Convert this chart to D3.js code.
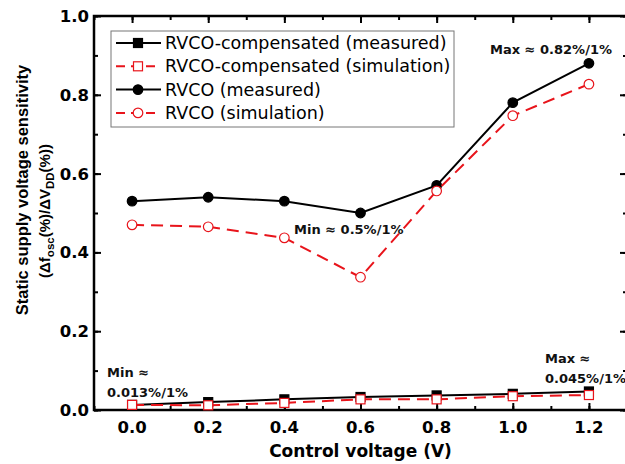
<!DOCTYPE html>
<html>
<head>
<meta charset="utf-8">
<script src="https://cdn.jsdelivr.net/npm/d3@7"></script>
<style>
  body { margin: 0; background: #fff; }
  svg { font-family: "DejaVu Sans", Verdana, sans-serif; }
</style>
</head>
<body>
<div id="chart"></div>
<script>
const FRAME_WIDTH = 625;
const FRAME_HEIGHT = 464;
const MARGINS = { left: 94, right: -2, top: 16, bottom: 54 };
const VIS_WIDTH = FRAME_WIDTH - MARGINS.left - MARGINS.right;
const VIS_HEIGHT = FRAME_HEIGHT - MARGINS.top - MARGINS.bottom;

// data
const VOLTAGES = [0.0, 0.2, 0.4, 0.6, 0.8, 1.0, 1.2];
const COMP_MEASURED = [0.013, 0.02, 0.027, 0.033, 0.037, 0.041, 0.047];
const COMP_SIM = [0.013, 0.012, 0.018, 0.027, 0.027, 0.035, 0.038];
const RVCO_MEASURED = [0.53, 0.54, 0.53, 0.50, 0.57, 0.78, 0.88];
const RVCO_SIM = [0.47, 0.465, 0.437, 0.337, 0.556, 0.747, 0.827];
const X_TICKS = [0.0, 0.2, 0.4, 0.6, 0.8, 1.0, 1.2];
const Y_TICKS = [0.0, 0.2, 0.4, 0.6, 0.8, 1.0];

const SERIES = [
  { name: "RVCO-compensated (measured)", values: COMP_MEASURED, color: "black", dash: null, marker: "square", filled: true },
  { name: "RVCO-compensated (simulation)", values: COMP_SIM, color: "#e8141b", dash: "12,7", marker: "square", filled: false },
  { name: "RVCO (measured)", values: RVCO_MEASURED, color: "black", dash: null, marker: "circle", filled: true },
  { name: "RVCO (simulation)", values: RVCO_SIM, color: "#e8141b", dash: "12,7", marker: "circle", filled: false },
];

const svg = d3.select("#chart").append("svg")
  .attr("width", FRAME_WIDTH)
  .attr("height", FRAME_HEIGHT);

const X_SCALE = d3.scaleLinear().domain([-0.1, 1.3]).range([0, VIS_WIDTH]);
const Y_SCALE = d3.scaleLinear().domain([0, 1.0]).range([VIS_HEIGHT, 0]);

const g = svg.append("g").attr("transform", `translate(${MARGINS.left},${MARGINS.top})`);

// minor + major ticks, pointing inward on all four sides
const xMinor = d3.range(-0.1, 1.31, 0.1).map((d) => +d.toFixed(1));
const yMinor = d3.range(0, 1.01, 0.1).map((d) => +d.toFixed(1));

[[xMinor, 4], [X_TICKS, 7]].forEach(([vals, size]) => {
  g.append("g")
    .attr("transform", `translate(0,${VIS_HEIGHT})`)
    .call(d3.axisTop(X_SCALE).tickValues(vals).tickSize(size).tickFormat(""));
  g.append("g")
    .call(d3.axisBottom(X_SCALE).tickValues(vals).tickSize(size).tickFormat(""));
});
[[yMinor, 4], [Y_TICKS, 7]].forEach(([vals, size]) => {
  g.append("g")
    .call(d3.axisRight(Y_SCALE).tickValues(vals).tickSize(size).tickFormat(""));
  g.append("g")
    .attr("transform", `translate(${VIS_WIDTH},0)`)
    .call(d3.axisLeft(Y_SCALE).tickValues(vals).tickSize(size).tickFormat(""));
});

g.selectAll(".domain").remove();
g.selectAll(".tick line").attr("stroke", "black").attr("stroke-width", 2);

// tick labels
g.selectAll(".xlab")
  .data(X_TICKS)
  .enter()
  .append("text")
  .attr("x", (d) => X_SCALE(d))
  .attr("y", VIS_HEIGHT + 23)
  .attr("text-anchor", "middle")
  .attr("font-size", "16.5px")
  .attr("font-weight", "bold")
  .text((d) => d.toFixed(1));

g.selectAll(".ylab")
  .data(Y_TICKS)
  .enter()
  .append("text")
  .attr("x", -5)
  .attr("y", (d) => Y_SCALE(d) + 6)
  .attr("text-anchor", "end")
  .attr("font-size", "16.5px")
  .attr("font-weight", "bold")
  .text((d) => d.toFixed(1));

// frame
g.append("rect")
  .attr("width", VIS_WIDTH)
  .attr("height", VIS_HEIGHT)
  .attr("fill", "none")
  .attr("stroke", "black")
  .attr("stroke-width", 2.5);

// lines and markers
const line = d3.line()
  .x((d, i) => X_SCALE(VOLTAGES[i]))
  .y((d) => Y_SCALE(d));

function drawMarker(sel, s, x, y) {
  if (s.marker === "square") {
    sel.append("rect")
      .attr("x", x - 4.5).attr("y", y - 4.5)
      .attr("width", 9).attr("height", 9)
      .attr("fill", s.filled ? s.color : "white")
      .attr("stroke", s.color)
      .attr("stroke-width", 1.2);
  } else {
    sel.append("circle")
      .attr("cx", x).attr("cy", y).attr("r", 4.8)
      .attr("fill", s.filled ? s.color : "white")
      .attr("stroke", s.color)
      .attr("stroke-width", 1.2);
  }
}

SERIES.forEach((s) => {
  g.append("path")
    .datum(s.values)
    .attr("d", line)
    .attr("fill", "none")
    .attr("stroke", s.color)
    .attr("stroke-width", 2)
    .attr("stroke-dasharray", s.dash);
  const mg = g.append("g");
  s.values.forEach((v, i) => drawMarker(mg, s, X_SCALE(VOLTAGES[i]), Y_SCALE(v)));
});

// legend
const legend = svg.append("g").attr("transform", "translate(111,31)");
legend.append("rect")
  .attr("width", 343)
  .attr("height", 96)
  .attr("fill", "white")
  .attr("stroke", "#777")
  .attr("stroke-width", 1);

SERIES.forEach((s, i) => {
  const y = 12 + i * 23.3;
  legend.append("line")
    .attr("x1", 5).attr("x2", 50)
    .attr("y1", y).attr("y2", y)
    .attr("stroke", s.color)
    .attr("stroke-width", 2)
    .attr("stroke-dasharray", s.dash ? "9,6" : null);
  drawMarker(legend, s, 27, y);
  legend.append("text")
    .attr("x", 54)
    .attr("y", y + 6)
    .attr("font-size", "17.5px")
    .text(s.name);
});

// annotations
const notes = [
  { lines: ["Max ≈ 0.82%/1%"], x: 490, y: 54 },
  { lines: ["Min ≈ 0.5%/1%"], x: 294, y: 234 },
  { lines: ["Min ≈", "0.013%/1%"], x: 107, y: 377 },
  { lines: ["Max ≈", "0.045%/1%"], x: 545, y: 363 },
];
notes.forEach((n) => {
  n.lines.forEach((t, j) => {
    svg.append("text")
      .attr("x", n.x)
      .attr("y", n.y + j * 20)
      .attr("font-size", "13px")
      .attr("font-weight", "bold")
      .attr("fill", "#111")
      .text(t);
  });
});

// axis titles
svg.append("text")
  .attr("x", MARGINS.left + X_SCALE(0.6))
  .attr("y", 457)
  .attr("text-anchor", "middle")
  .attr("font-size", "17px")
  .attr("font-weight", "bold")
  .text("Control voltage (V)");

const yTitle = svg.append("g")
  .attr("transform", "rotate(-90)")
  .attr("font-family", "'Liberation Sans', Arial, sans-serif")
  .attr("font-weight", "bold");
yTitle.append("text")
  .attr("x", -190)
  .attr("y", 28)
  .attr("text-anchor", "middle")
  .attr("font-size", "16.5px")
  .text("Static supply voltage sensitivity");

const t2 = yTitle.append("text")
  .attr("x", -211)
  .attr("y", 50)
  .attr("text-anchor", "middle")
  .attr("font-size", "15px");
t2.append("tspan").text("(Δf");
t2.append("tspan").attr("font-size", "11.5px").attr("dy", 4).text("osc");
t2.append("tspan").attr("dy", -4).text("(%)/ΔV");
t2.append("tspan").attr("font-size", "11.5px").attr("dy", 4).text("DD");
t2.append("tspan").attr("dy", -4).text("(%))");
</script>
</body>
</html>
